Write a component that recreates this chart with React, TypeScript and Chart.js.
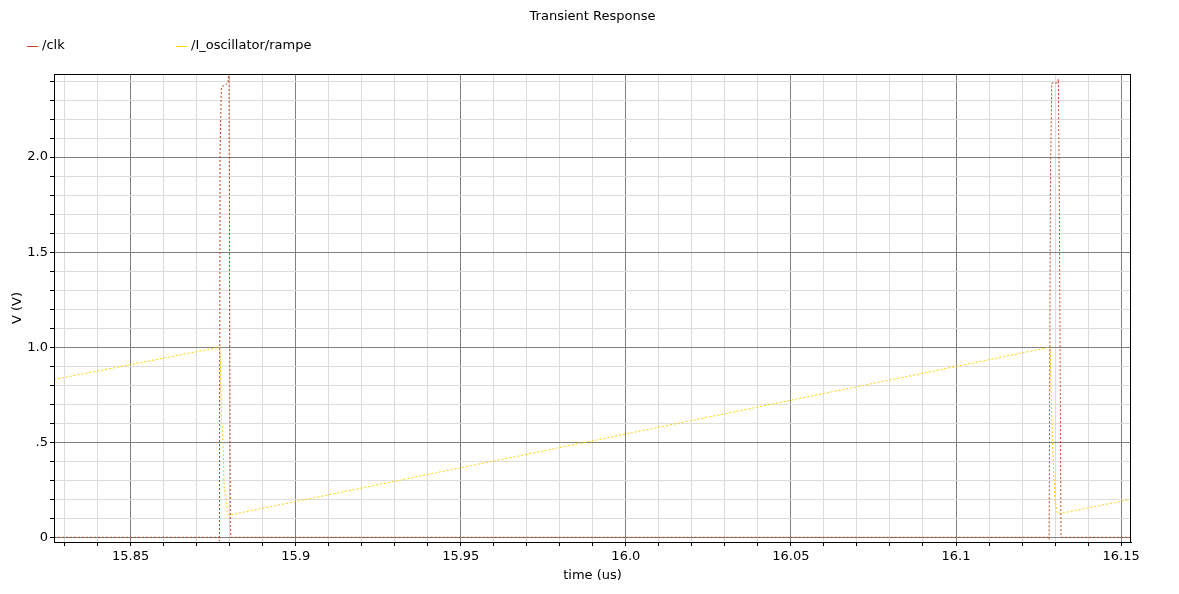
import React, { useEffect, useRef } from "react";
import { Chart, registerables } from "chart.js";

Chart.register(...registerables);

const chartTitle = "Transient Response";
const xAxisTitle = "time (us)";
const yAxisTitle = "V (V)";

const clkName = "/clk";
const clkTime = [15.8268, 15.8768, 15.8769, 15.8771, 15.8775, 15.8787, 15.8795, 15.8798, 15.8802, 15.8804, 16.1281, 16.1282, 16.1283, 16.1286, 16.129, 16.1307, 16.131, 16.1313, 16.1318, 16.153];
const clkVolt = [0, 0, -0.02, 2.03, 2.37, 2.38, 2.39, 2.44, 0.06, 0, 0, -0.01, 0.44, 1.9, 2.39, 2.39, 2.41, 1.75, 0, 0];

const rampName = "/I_oscillator/rampe";
const rampTime = [15.8268, 15.877, 15.8772, 15.8775, 15.878, 15.8783, 15.879, 15.8794, 15.88, 16.1285, 16.1286, 16.1292, 16.1299, 16.1307, 16.1318, 16.153];
const rampVolt = [0.83, 1.0, 0.92, 0.63, 0.51, 0.27, 0.18, 0.12, 0.117, 1.0, 0.92, 0.51, 0.21, 0.126, 0.126, 0.2];

const xMajorTicks = [15.85, 15.9, 15.95, 16.0, 16.05, 16.1, 16.15];
const xTickLabels = ["15.85", "15.9", "15.95", "16.0", "16.05", "16.1", "16.15"];
const yMajorTicks = [0, 0.5, 1.0, 1.5, 2.0];
const yTickLabels = ["0", ".5", "1.0", "1.5", "2.0"];

const xRange = [15.8268, 16.153];
const yRange = [-0.0247, 2.437];

const clkColor = "#c8401e";
const rampColor = "#ffd200";
const FONT = "DejaVu Sans";

function minorTicks(from: number, to: number, step: number) {
  const out: number[] = [];
  const n = Math.round((to - from) / step);
  for (let i = 0; i <= n; i++) out.push(Math.round((from + i * step) * 1000) / 1000);
  return out;
}

function isMajor(v: number, majors: number[]) {
  return majors.some((m) => Math.abs(m - v) < 1e-6);
}

function labelFor(v: number, majors: number[], labels: string[]) {
  const i = majors.findIndex((m) => Math.abs(m - v) < 1e-6);
  return i >= 0 ? labels[i] : "";
}

const decorPlugin = {
  id: "decor",
  afterDatasetsDraw(chart: any) {
    const { ctx, chartArea } = chart;
    const a = chartArea;
    ctx.save();
    ctx.strokeStyle = "#000";
    ctx.lineWidth = 1;
    ctx.strokeRect(Math.round(a.left) + 0.5, Math.round(a.top) + 0.5, Math.round(a.right - a.left) - 1, Math.round(a.bottom - a.top));
    ctx.restore();
  },
  afterDraw(chart: any) {
    const { ctx, chartArea } = chart;
    const a = chartArea;
    const cx = (a.left + a.right) / 2;
    const cy = (a.top + a.bottom) / 2;
    ctx.save();
    ctx.fillStyle = "#000";
    ctx.font = `13px "${FONT}"`;
    ctx.textBaseline = "middle";
    ctx.textAlign = "center";
    ctx.fillText(chartTitle, cx, 17);
    ctx.fillText(xAxisTitle, cx, 576);
    ctx.save();
    ctx.translate(18, cy);
    ctx.rotate(-Math.PI / 2);
    ctx.fillText(yAxisTitle, 0, 0);
    ctx.restore();
    // legend
    const items = [
      { name: clkName, color: clkColor, x: 27 },
      { name: rampName, color: rampColor, x: 176 },
    ];
    ctx.textAlign = "left";
    items.forEach((it) => {
      ctx.strokeStyle = it.color;
      ctx.lineWidth = 1;
      ctx.beginPath();
      ctx.moveTo(it.x, 46.5);
      ctx.lineTo(it.x + 11, 46.5);
      ctx.stroke();
      ctx.fillStyle = "#000";
      ctx.fillText(it.name, it.x + 15, 46);
    });
    ctx.restore();
  },
};

export default function App() {
  const ref = useRef<HTMLCanvasElement | null>(null);
  useEffect(() => {
    document.body.style.margin = "0";
    if (!ref.current) return;
    const chart = new Chart(ref.current, {
      type: "line",
      data: {
        datasets: [
          {
            label: clkName,
            data: clkTime.map((t, i) => ({ x: t, y: clkVolt[i] })),
            borderColor: clkColor,
            borderWidth: 1,
            borderDash: [2, 2],
            pointRadius: 0,
            tension: 0,
            fill: false,
          },
          {
            label: rampName,
            data: rampTime.map((t, i) => ({ x: t, y: rampVolt[i] })),
            borderColor: rampColor,
            borderWidth: 1,
            borderDash: [2, 2],
            pointRadius: 0,
            tension: 0,
            fill: false,
          },
        ],
      },
      options: {
        responsive: false,
        animation: false,
        layout: { padding: { top: 74, right: 48, left: 0, bottom: 0 } },
        plugins: { legend: { display: false }, title: { display: false }, tooltip: { enabled: false } },
        scales: {
          x: {
            type: "linear",
            min: xRange[0],
            max: xRange[1],
            afterFit: (s: any) => { s.height = 52; },
            afterBuildTicks: (s: any) => { s.ticks = minorTicks(15.83, 16.15, 0.01).map((v) => ({ value: v })); },
            grid: {
              color: (c: any) => (c.tick && isMajor(c.tick.value, xMajorTicks) ? "#808080" : "#dcdcdc"),
              tickColor: "#000",
              tickLength: 4,
              lineWidth: 1,
            },
            border: { display: true, color: "#000" },
            ticks: {
              autoSkip: false,
              maxRotation: 0,
              padding: 3,
              color: "#000",
              font: { family: FONT, size: 13 },
              callback: (v: any) => labelFor(Number(v), xMajorTicks, xTickLabels),
            },
          },
          y: {
            type: "linear",
            min: yRange[0],
            max: yRange[1],
            afterFit: (s: any) => { s.width = 54; },
            afterBuildTicks: (s: any) => { s.ticks = minorTicks(0, 2.4, 0.1).map((v) => ({ value: v })); },
            grid: {
              color: (c: any) => (c.tick && isMajor(c.tick.value, yMajorTicks) ? "#808080" : "#dcdcdc"),
              tickColor: "#000",
              tickLength: 4,
              lineWidth: 1,
            },
            border: { display: true, color: "#000" },
            ticks: {
              autoSkip: false,
              padding: 2,
              color: "#000",
              font: { family: FONT, size: 13 },
              callback: (v: any) => labelFor(Number(v), yMajorTicks, yTickLabels),
            },
          },
        },
      },
      plugins: [decorPlugin],
    } as any);
    return () => chart.destroy();
  }, []);
  return (
    <div style={{ width: 1179, height: 594 }}>
      <canvas ref={ref} width={1179} height={594} style={{ display: "block" }} />
    </div>
  );
}
